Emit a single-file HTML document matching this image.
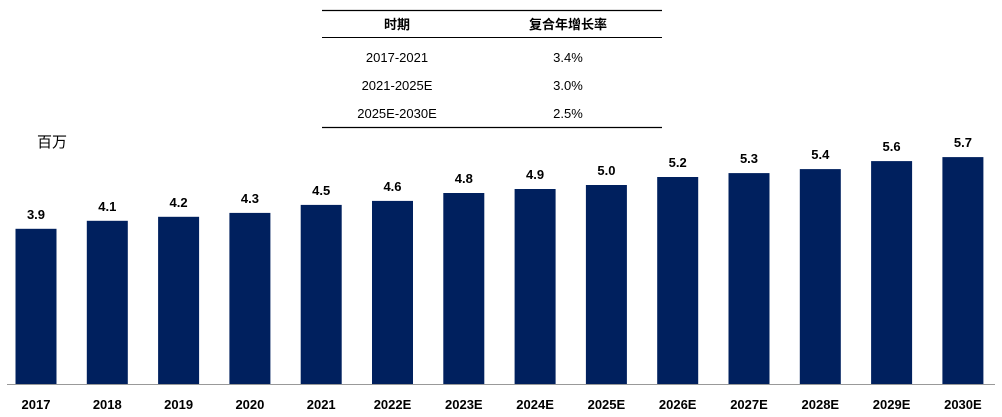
<!DOCTYPE html>
<html><head><meta charset="utf-8"><style>
body{margin:0;background:#fff;}
svg{display:block;font-family:"Liberation Sans","Noto Sans CJK SC",sans-serif;}
</style></head><body>
<svg width="1002" height="417" viewBox="0 0 1002 417">
<rect width="1002" height="417" fill="#fff"/>
<line x1="322" y1="10.5" x2="662" y2="10.5" stroke="#000" stroke-width="1.2"/>
<line x1="322" y1="37.5" x2="662" y2="37.5" stroke="#000" stroke-width="1"/>
<line x1="322" y1="127.5" x2="662" y2="127.5" stroke="#000" stroke-width="1.2"/>
<g font-size="13" text-anchor="middle" fill="#000">
<text x="397" y="29" font-weight="bold">时期</text>
<text x="568" y="29" font-weight="bold">复合年增长率</text>
<text x="397" y="62">2017-2021</text><text x="568" y="62">3.4%</text>
<text x="397" y="90">2021-2025E</text><text x="568" y="90">3.0%</text>
<text x="397" y="118">2025E-2030E</text><text x="568" y="118">2.5%</text>
</g>
<text x="37" y="147" font-size="15" fill="#000">百万</text>
<g fill="#00205e">
<rect x="15.5" y="228.8" width="41" height="155.2"/>
<rect x="86.8" y="220.8" width="41" height="163.2"/>
<rect x="158.1" y="216.8" width="41" height="167.2"/>
<rect x="229.4" y="212.9" width="41" height="171.1"/>
<rect x="300.7" y="204.9" width="41" height="179.1"/>
<rect x="372" y="200.9" width="41" height="183.1"/>
<rect x="443.3" y="193" width="41" height="191"/>
<rect x="514.6" y="189" width="41" height="195"/>
<rect x="585.9" y="185" width="41" height="199"/>
<rect x="657.2" y="177" width="41" height="207"/>
<rect x="728.5" y="173.1" width="41" height="210.9"/>
<rect x="799.8" y="169.1" width="41" height="214.9"/>
<rect x="871.1" y="161.1" width="41" height="222.9"/>
<rect x="942.4" y="157.1" width="41" height="226.9"/>
</g>
<g font-size="13" font-weight="bold" text-anchor="middle" fill="#000">
<text x="36" y="218.8">3.9</text>
<text x="107.3" y="210.8">4.1</text>
<text x="178.6" y="206.8">4.2</text>
<text x="249.9" y="202.9">4.3</text>
<text x="321.2" y="194.9">4.5</text>
<text x="392.5" y="190.9">4.6</text>
<text x="463.8" y="183">4.8</text>
<text x="535.1" y="179">4.9</text>
<text x="606.4" y="175">5.0</text>
<text x="677.7" y="167">5.2</text>
<text x="749" y="163.1">5.3</text>
<text x="820.3" y="159.1">5.4</text>
<text x="891.6" y="151.1">5.6</text>
<text x="962.9" y="147.1">5.7</text>
<text x="36" y="409">2017</text>
<text x="107.3" y="409">2018</text>
<text x="178.6" y="409">2019</text>
<text x="249.9" y="409">2020</text>
<text x="321.2" y="409">2021</text>
<text x="392.5" y="409">2022E</text>
<text x="463.8" y="409">2023E</text>
<text x="535.1" y="409">2024E</text>
<text x="606.4" y="409">2025E</text>
<text x="677.7" y="409">2026E</text>
<text x="749" y="409">2027E</text>
<text x="820.3" y="409">2028E</text>
<text x="891.6" y="409">2029E</text>
<text x="962.9" y="409">2030E</text>
</g>
<line x1="7" y1="384.5" x2="995" y2="384.5" stroke="#999" stroke-width="1"/>
</svg>
</body></html>
